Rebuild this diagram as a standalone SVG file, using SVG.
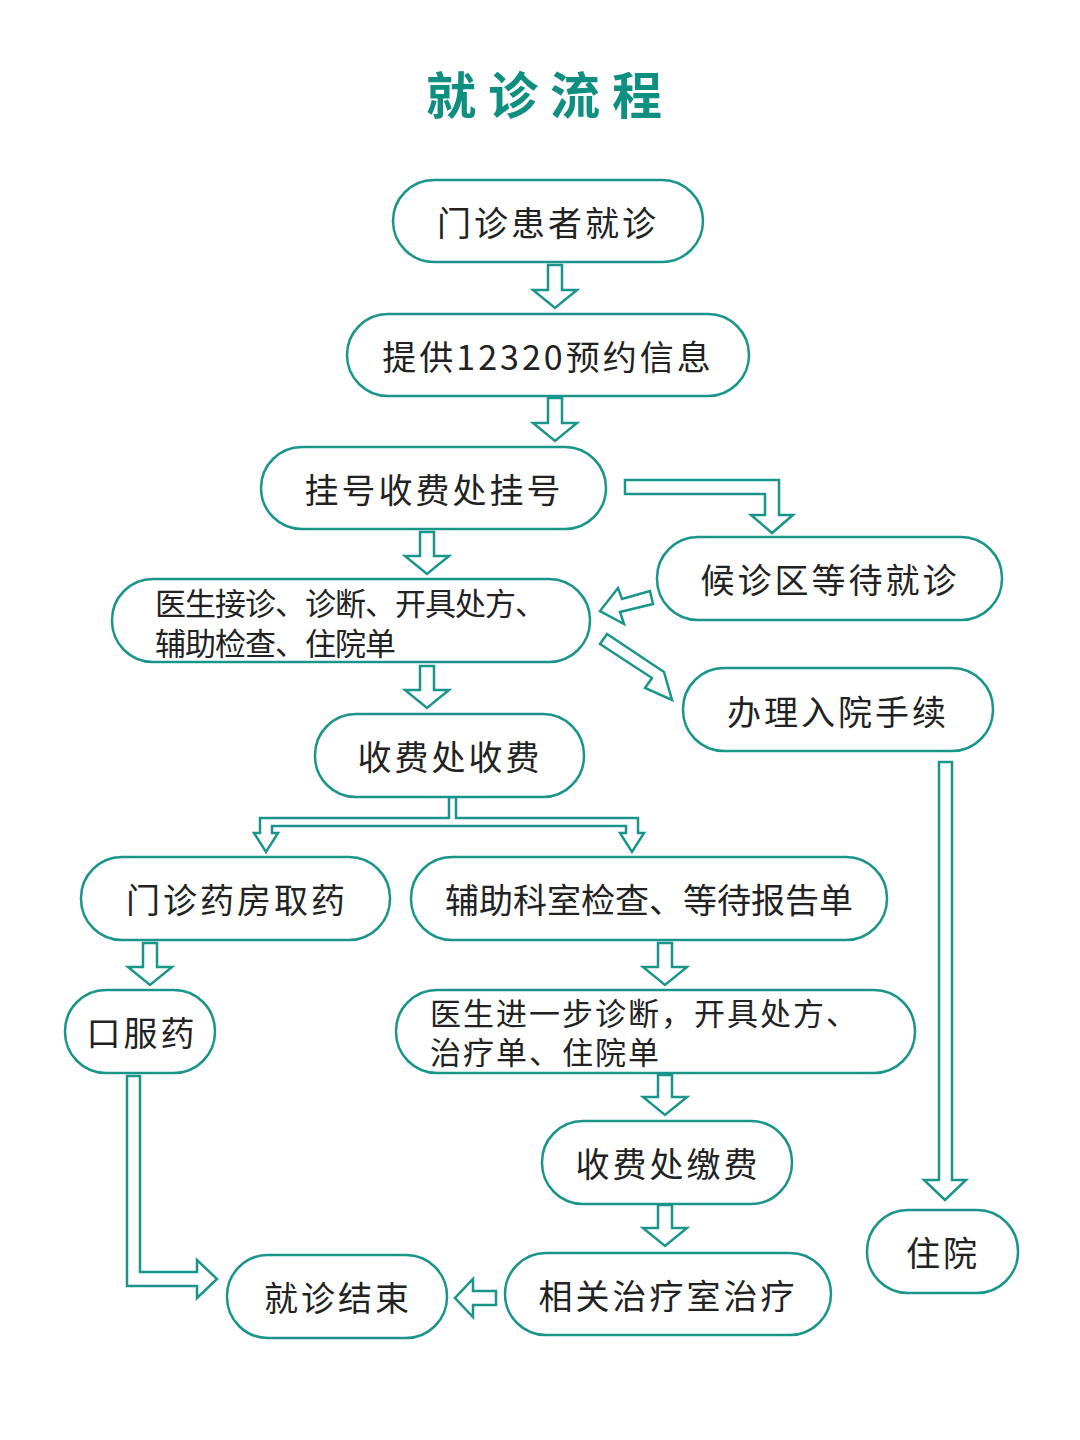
<svg xmlns="http://www.w3.org/2000/svg" width="1080" height="1440" viewBox="0 0 1080 1440">
<style>
.n{fill:#fff;stroke:#1a958a;stroke-width:2.5}
.t{font-family:"Noto Sans CJK SC","Liberation Sans",sans-serif;font-size:34px;fill:#222;text-anchor:middle;dominant-baseline:central;letter-spacing:3px}
.l{text-anchor:start;letter-spacing:-1px;font-size:31px}
.a{fill:#fff;stroke:#1a958a;stroke-width:2.5;stroke-linejoin:miter}
</style>
<rect width="1080" height="1440" fill="#fff"/>
<text x="550" y="92" font-family="Noto Sans CJK SC,sans-serif" font-size="50" font-weight="bold" fill="#0f8f80" text-anchor="middle" dominant-baseline="central" letter-spacing="12">就诊流程</text>
<g id="connectors">
<polygon class="a" points="548,265 562,265 562,290 577,290 555,308 533,290 548,290"/>
<polygon class="a" points="548,398 562,398 562,423 577,423 555,441 533,423 548,423"/>
<polygon class="a" points="625,480 779,480 779,515 793,515 772,533 751,515 765,515 765,494 625,494"/>
<polygon class="a" points="420,532 434,532 434,556 449,556 427,574 405,556 420,556"/>
<polygon class="a" points="420,666 434,666 434,690 449,690 427,708 405,690 420,690"/>
<polygon class="a" points="650,591 622,599 618,588 600,611 624,624 620,612 653,604"/>
<polygon class="a" points="600,644 652,678 645,688 672,700 664,672 658,668 607,634"/>
<polygon class="a" points="449,797 456,797 456,818 638,818 638,833 644,833 632,852 620,833 626,833 626,826 272,826 272,833 278,833 266,852 254,833 260,833 260,818 449,818"/>
<polygon class="a" points="143,943 157,943 157,967 172,967 150,985 128,967 143,967"/>
<polygon class="a" points="658,943 672,943 672,967 687,967 665,985 643,967 658,967"/>
<polygon class="a" points="658,1075 672,1075 672,1097 687,1097 665,1115 643,1097 658,1097"/>
<polygon class="a" points="658,1205 672,1205 672,1228 687,1228 665,1246 643,1228 658,1228"/>
<polygon class="a" points="939,762 952,762 952,1180 966,1180 945,1200 924,1180 939,1180"/>
<polygon class="a" points="496,1291 473,1291 473,1279 455,1298 473,1317 473,1305 496,1305"/>
<polygon class="a" points="127,1076 140,1076 140,1272 197,1272 197,1260 217,1279 197,1298 197,1286 127,1286"/>
</g>
<g id="n1"><rect class="n" x="393" y="180" width="310" height="82" rx="41"/><text class="t" x="548" y="221">门诊患者就诊</text></g>
<g id="n2"><rect class="n" x="347" y="314" width="402" height="82" rx="41"/><text class="t" x="548" y="355">提供12320预约信息</text></g>
<g id="n3"><rect class="n" x="261" y="447" width="345" height="82" rx="41"/><text class="t" x="434" y="488">挂号收费处挂号</text></g>
<g id="n4"><rect class="n" x="657" y="537" width="345" height="83" rx="41"/><text class="t" x="830" y="578">候诊区等待就诊</text></g>
<g id="n5"><rect class="n" x="112" y="579" width="478" height="83" rx="41"/><text class="t l" x="155" y="601">医生接诊、诊断、开具处方、</text><text class="t l" x="155" y="641">辅助检查、住院单</text></g>
<g id="n6"><rect class="n" x="683" y="668" width="310" height="83" rx="41"/><text class="t" x="838" y="710">办理入院手续</text></g>
<g id="n7"><rect class="n" x="315" y="714" width="269" height="83" rx="41"/><text class="t" x="450" y="755">收费处收费</text></g>
<g id="n8"><rect class="n" x="81" y="857" width="309" height="83" rx="41"/><text class="t" x="237" y="898">门诊药房取药</text></g>
<g id="n9"><rect class="n" x="411" y="857" width="476" height="83" rx="41"/><text class="t" x="649" y="898" style="letter-spacing:0">辅助科室检查、等待报告单</text></g>
<g id="n10"><rect class="n" x="65" y="990" width="150" height="83" rx="41"/><text class="t" x="142" y="1031">口服药</text></g>
<g id="n11"><rect class="n" x="396" y="990" width="519" height="83" rx="41"/><text class="t l" x="430" y="1011" style="letter-spacing:2px;font-size:31px">医生进一步诊断，开具处方、</text><text class="t l" x="430" y="1050" style="letter-spacing:2px;font-size:31px">治疗单、住院单</text></g>
<g id="n12"><rect class="n" x="542" y="1121" width="250" height="83" rx="41"/><text class="t" x="668" y="1162">收费处缴费</text></g>
<g id="n13"><rect class="n" x="867" y="1210" width="151" height="83" rx="41"/><text class="t" x="943" y="1251">住院</text></g>
<g id="n14"><rect class="n" x="227" y="1255" width="220" height="83" rx="41"/><text class="t" x="338" y="1296">就诊结束</text></g>
<g id="n15"><rect class="n" x="505" y="1253" width="326" height="82" rx="41"/><text class="t" x="668" y="1294">相关治疗室治疗</text></g>
</svg>
